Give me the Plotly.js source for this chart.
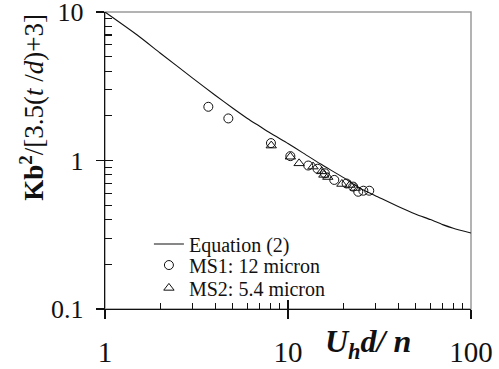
<!DOCTYPE html>
<html>
<head>
<meta charset="utf-8">
<script src="https://cdn.plot.ly/plotly-3.0.1.min.js"></script>
<style>html,body{margin:0;padding:0;background:#fff;}#chart{width:499px;height:369px;}</style>
</head>
<body>
<div id="chart"></div>
<script>
// Equation (2) curve
const curveX = [1, 1.5, 2, 3, 4, 5, 6, 7, 8, 10, 12, 15, 20, 25, 30, 40, 50, 60, 70, 80, 100];
const curveY = [10, 7.0, 5.3, 3.6, 2.75, 2.25, 1.92, 1.7, 1.53, 1.3, 1.13, 0.95, 0.77, 0.645, 0.58, 0.49, 0.435, 0.4, 0.37, 0.35, 0.325];
// MS1: 12 micron (circles)
const ms1X = [3.67, 4.72, 8.07, 10.3, 12.9, 14.5, 15.9, 17.9, 20.9, 22.7, 24.2, 25.8, 27.8];
const ms1Y = [2.30, 1.92, 1.31, 1.07, 0.925, 0.88, 0.82, 0.74, 0.70, 0.667, 0.616, 0.626, 0.626];
// MS2: 5.4 micron (triangles)
const ms2X = [8.1, 10.3, 11.5, 13.7, 15.3, 15.7, 16.5, 19.7, 21.8, 23.3];
const ms2Y = [1.26, 1.06, 0.957, 0.91, 0.845, 0.80, 0.774, 0.695, 0.684, 0.653];
// axis ticks
const xMajor = [1, 10, 100];
const xMajorText = ['1', '10', '100'];
const xMinor = [2, 3, 4, 5, 6, 7, 8, 9, 20, 30, 40, 50, 60, 70, 80, 90];
const yMajor = [0.1, 1, 10];
const yMajorText = ['0.1', '1', '10'];
const yMinor = [0.2, 0.3, 0.4, 0.5, 0.6, 0.7, 0.8, 0.9, 2, 3, 4, 5, 6, 7, 8, 9];
const names = ['Equation (2)', 'MS1: 12 micron', 'MS2: 5.4 micron'];

const FONT = "'Liberation Serif', 'Times New Roman', serif";
const INK = '#111';
const XR = [0, 2];
const YR = [-1, 1];

const traces = [
  {x: curveX, y: curveY, mode: 'lines', name: names[0], legend: 'legend', line: {color: INK, width: 1.1, shape: 'spline', smoothing: 0.6}},
  {x: ms1X, y: ms1Y, mode: 'markers', name: names[1], legend: 'legend2', marker: {symbol: 'circle-open', size: 9, color: INK, line: {width: 1}}},
  {x: ms2X, y: ms2Y, mode: 'markers', name: names[2], legend: 'legend3', marker: {symbol: 'triangle-up-open', size: 9, color: INK, line: {width: 1}}},
  {x: [], y: [], xaxis: 'x2', yaxis: 'y', showlegend: false, hoverinfo: 'skip'},
  {x: [], y: [], xaxis: 'x3', yaxis: 'y', showlegend: false, hoverinfo: 'skip'},
  {x: [], y: [], xaxis: 'x', yaxis: 'y2', showlegend: false, hoverinfo: 'skip'},
  {x: [], y: [], xaxis: 'x', yaxis: 'y3', showlegend: false, hoverinfo: 'skip'}
];

function overlayAxis(base, range, vals, len, anchor) {
  return {
    type: 'log', range: range, overlaying: base, anchor: anchor,
    showgrid: false, zeroline: false, showline: false, showticklabels: false,
    tickmode: 'array', tickvals: vals, ticks: 'inside', ticklen: len, tickwidth: 1.1, tickcolor: INK
  };
}

function legendAt(y) {
  return {
    x: 0.12, y: y, xanchor: 'left', yanchor: 'middle',
    bgcolor: 'rgba(0,0,0,0)', borderwidth: 0,
    font: {size: 20, family: FONT, color: INK}
  };
}

const layout = {
  width: 499, height: 369,
  margin: {l: 105, r: 28, t: 12, b: 60},
  paper_bgcolor: '#fff', plot_bgcolor: '#fff',
  font: {family: FONT, color: INK},
  showlegend: true,
  xaxis: {
    type: 'log', range: XR, showgrid: false, zeroline: false,
    showline: true, linecolor: INK, linewidth: 1.2,
    tickmode: 'array', tickvals: xMajor, ticktext: xMajorText,
    ticks: 'outside', ticklen: 9, tickwidth: 1.2, tickcolor: INK,
    tickfont: {size: 29, family: FONT, color: INK}, ticklabelstandoff: 8, ticklabeloverflow: 'allow'
  },
  xaxis2: Object.assign(overlayAxis('x', XR, xMajor, 9, 'y'), {side: 'bottom'}),
  xaxis3: Object.assign(overlayAxis('x', XR, xMinor, 6, 'y'), {side: 'bottom'}),
  yaxis: {
    type: 'log', range: YR, showgrid: false, zeroline: false,
    showline: true, linecolor: INK, linewidth: 1.2,
    tickmode: 'array', tickvals: yMajor, ticktext: yMajorText,
    ticks: 'outside', ticklen: 8, tickwidth: 1.2, tickcolor: INK,
    tickfont: {size: 26, family: FONT, color: INK}, ticklabelstandoff: 7, ticklabeloverflow: 'allow'
  },
  yaxis2: Object.assign(overlayAxis('y', YR, yMajor, 8, 'x'), {side: 'left'}),
  yaxis3: Object.assign(overlayAxis('y', YR, yMinor, 7, 'x'), {side: 'left'}),
  shapes: [
    {type: 'rect', xref: 'paper', yref: 'paper', x0: 0, x1: 1, y0: 0, y1: 1, line: {color: '#9a9a9a', width: 1.5}, layer: 'below'}
  ],
  legend: legendAt(0.219),
  legend2: legendAt(0.148),
  legend3: legendAt(0.071),
  annotations: [
    {xref: 'paper', yref: 'paper', x: -0.2, y: 0.68, xanchor: 'center', yanchor: 'middle', textangle: -90, showarrow: false,
     text: '<b>Kb</b><sup><b>2</b></sup>/[3.5(<i>t</i> /<i>d</i>)+3]', font: {size: 27, family: FONT, color: INK}},
    {xref: 'paper', yref: 'paper', x: 0.7186, y: -0.115, xanchor: 'center', yanchor: 'middle', showarrow: false,
     text: '<b><i>U</i></b><sub><b><i>h</i></b></sub><b><i>d/ n</i></b>', font: {size: 32, family: FONT, color: INK}}
  ]
};

Plotly.newPlot('chart', traces, layout, {staticPlot: true, displayModeBar: false});
</script>
</body>
</html>
